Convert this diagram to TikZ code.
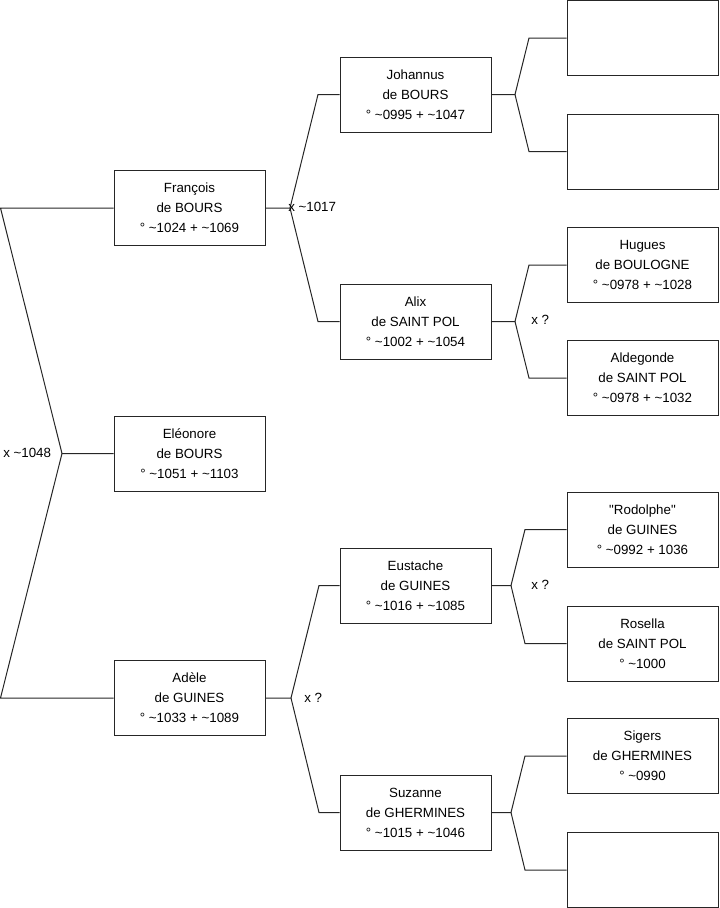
\documentclass[tikz,border=0pt]{standalone}
\usepackage{fontspec}
\setmainfont{Liberation Sans}
\begin{document}
\begin{tikzpicture}[x=0.75pt,y=-0.75pt,
  person/.style={draw=black!85,line width=0.75pt,fill=white,rectangle,minimum width=113.25pt,minimum height=56.25pt,inner sep=0pt,align=center,font=\fontsize{10}{15}\selectfont},
  link/.style={draw=black!85,line width=0.75pt},
  lbl/.style={font=\fontsize{10}{12}\selectfont,inner sep=0pt}]
\useasboundingbox (0,0) rectangle (719,908);
% level 1
\node[person] (fr) at (189.5,208) {François\\de BOURS\\° \textasciitilde1024 + \textasciitilde1069};
\node[person] (el) at (189.5,453.5) {Eléonore\\de BOURS\\° \textasciitilde1051 + \textasciitilde1103};
\node[person] (ad) at (189.5,698) {Adèle\\de GUINES\\° \textasciitilde1033 + \textasciitilde1089};
% level 2
\node[person] (jo) at (415.5,94.5) {Johannus\\de BOURS\\° \textasciitilde0995 + \textasciitilde1047};
\node[person] (al) at (415.5,321.5) {Alix\\de SAINT POL\\° \textasciitilde1002 + \textasciitilde1054};
\node[person] (eu) at (415.5,585.5) {Eustache\\de GUINES\\° \textasciitilde1016 + \textasciitilde1085};
\node[person] (su) at (415.5,812.5) {Suzanne\\de GHERMINES\\° \textasciitilde1015 + \textasciitilde1046};
% level 3
\node[person] (e1) at (642.5,38) {};
\node[person] (e2) at (642.5,151.5) {};
\node[person] (hu) at (642.5,265) {Hugues\\de BOULOGNE\\° \textasciitilde0978 + \textasciitilde1028};
\node[person] (ag) at (642.5,378) {Aldegonde\\de SAINT POL\\° \textasciitilde0978 + \textasciitilde1032};
\node[person] (ro) at (642.5,529.5) {\textquotedbl Rodolphe\textquotedbl\\de GUINES\\° \textasciitilde0992 + 1036};
\node[person] (rs) at (642.5,643.5) {Rosella\\de SAINT POL\\° \textasciitilde1000};
\node[person] (si) at (642.5,756) {Sigers\\de GHERMINES\\° \textasciitilde0990};
\node[person] (e3) at (642.5,870) {};
% junction coordinates
\coordinate (j0) at (62,453.5);
\coordinate (j0t) at (0.5,208);
\coordinate (j0b) at (0.5,698);
\coordinate (j1) at (290,208);
\coordinate (j1t) at (318,94.5);
\coordinate (j1b) at (318,321.5);
\coordinate (j2) at (291,698);
\coordinate (j2t) at (319,585.5);
\coordinate (j2b) at (319,812.5);
\coordinate (j3) at (515,94.5);
\coordinate (j3t) at (529,38);
\coordinate (j3b) at (529,151.5);
\coordinate (j4) at (515,321.5);
\coordinate (j4t) at (529,265);
\coordinate (j4b) at (529,378);
\coordinate (j5) at (511,585.5);
\coordinate (j5t) at (525,529.5);
\coordinate (j5b) at (525,643.5);
\coordinate (j6) at (511,812.5);
\coordinate (j6t) at (525,756);
\coordinate (j6b) at (525,870);
% connectors
\draw[link] (fr.west) -- (j0t) -- (j0) -- (el.west);
\draw[link] (j0) -- (j0b) -- (ad.west);
\draw[link] (fr.east) -- (j1) -- (j1t) -- (jo.west);
\draw[link] (j1) -- (j1b) -- (al.west);
\draw[link] (ad.east) -- (j2) -- (j2t) -- (eu.west);
\draw[link] (j2) -- (j2b) -- (su.west);
\draw[link] (jo.east) -- (j3) -- (j3t) -- (e1.west);
\draw[link] (j3) -- (j3b) -- (e2.west);
\draw[link] (al.east) -- (j4) -- (j4t) -- (hu.west);
\draw[link] (j4) -- (j4b) -- (ag.west);
\draw[link] (eu.east) -- (j5) -- (j5t) -- (ro.west);
\draw[link] (j5) -- (j5b) -- (rs.west);
\draw[link] (su.east) -- (j6) -- (j6t) -- (si.west);
\draw[link] (j6) -- (j6b) -- (e3.west);
% marriage labels
\node[lbl,anchor=west] (m0) at (3,453) {x \textasciitilde1048};
\node[lbl,anchor=west] (m1) at (288,207) {x \textasciitilde1017};
\node[lbl,anchor=west] (m2) at (304,698) {x ?};
\node[lbl,anchor=west] (m3) at (531,320) {x ?};
\node[lbl,anchor=west] (m4) at (531,585) {x ?};
\end{tikzpicture}
\end{document}
